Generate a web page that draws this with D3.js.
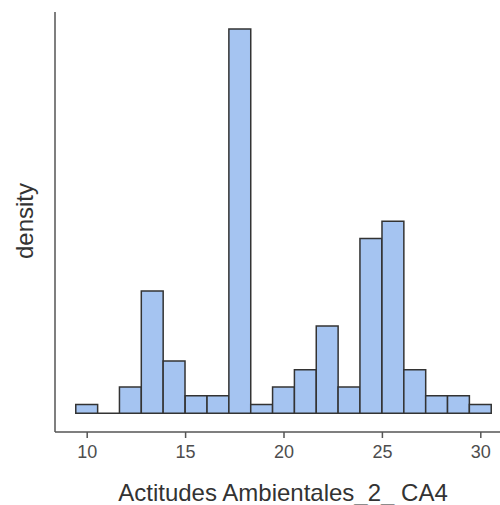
<!DOCTYPE html>
<html>
<head>
<meta charset="utf-8">
<script src="https://cdn.jsdelivr.net/npm/d3@7"></script>
<style>
  body { margin: 0; background: #fff; }
  text { font-family: "Liberation Sans", Arial, sans-serif; }
</style>
</head>
<body>
<svg width="500" height="505"></svg>
<script>
// bin centres (width 20/18) and counts
var binCenters = [10, 11.11, 12.22, 13.33, 14.44, 15.56, 16.67, 17.78, 18.89, 20,
                  21.11, 22.22, 23.33, 24.44, 25.56, 26.67, 27.78, 28.89, 30];
var binCounts = [1, 0, 3, 14, 6, 2, 2, 44, 1, 3, 5, 10, 3, 20, 22, 5, 2, 2, 1];
var xTicks = [10, 15, 20, 25, 30];

var binWidth = 20 / 18;
var total = d3.sum(binCounts);
var bins = binCenters.map(function(c, i) {
  return { x0: c - binWidth / 2, x1: c + binWidth / 2, density: binCounts[i] / (total * binWidth) };
});

var svg = d3.select("svg");

var x = d3.scaleLinear().domain([10, 30]).range([86.7, 480.3]);
var y = d3.scaleLinear().domain([0, d3.max(bins, function(d) { return d.density; })]).range([413.3, 29]);

// bars drawn as paths so empty bins still show their outline on the baseline
svg.append("g")
  .selectAll("path")
  .data(bins)
  .enter().append("path")
    .attr("d", function(d) {
      var x0 = x(d.x0), x1 = x(d.x1), y0 = y(0), y1 = y(d.density);
      return "M" + x0 + "," + y0 + "V" + y1 + "H" + x1 + "V" + y0 + "Z";
    })
    .attr("fill", "#a5c4f1")
    .attr("stroke", "#333")
    .attr("stroke-width", 1.5);

// axes
svg.append("line")
  .attr("x1", 55).attr("x2", 55).attr("y1", 12).attr("y2", 432)
  .attr("stroke", "#555").attr("stroke-width", 1.5);

var xAxis = svg.append("g")
  .attr("transform", "translate(0,432)")
  .call(d3.axisBottom(x).tickValues(xTicks).tickSize(6).tickPadding(7));
xAxis.select(".domain").remove();
xAxis.append("line")
  .attr("x1", 55).attr("x2", 500).attr("y1", 0).attr("y2", 0)
  .attr("stroke", "#555").attr("stroke-width", 1.5);
xAxis.selectAll(".tick line").attr("stroke", "#555").attr("stroke-width", 1.5);
xAxis.selectAll(".tick text")
  .attr("fill", "#4d4d4d")
  .style("font-size", "18px")
  .style("font-family", '"Liberation Sans", Arial, sans-serif');

svg.append("text")
  .attr("x", 283).attr("y", 501)
  .attr("text-anchor", "middle")
  .attr("fill", "#333")
  .style("font-size", "24px")
  .text("Actitudes Ambientales_2_ CA4");

svg.append("text")
  .attr("transform", "translate(33,221) rotate(-90)")
  .attr("text-anchor", "middle")
  .attr("fill", "#333")
  .style("font-size", "24px")
  .text("density");
</script>
</body>
</html>
